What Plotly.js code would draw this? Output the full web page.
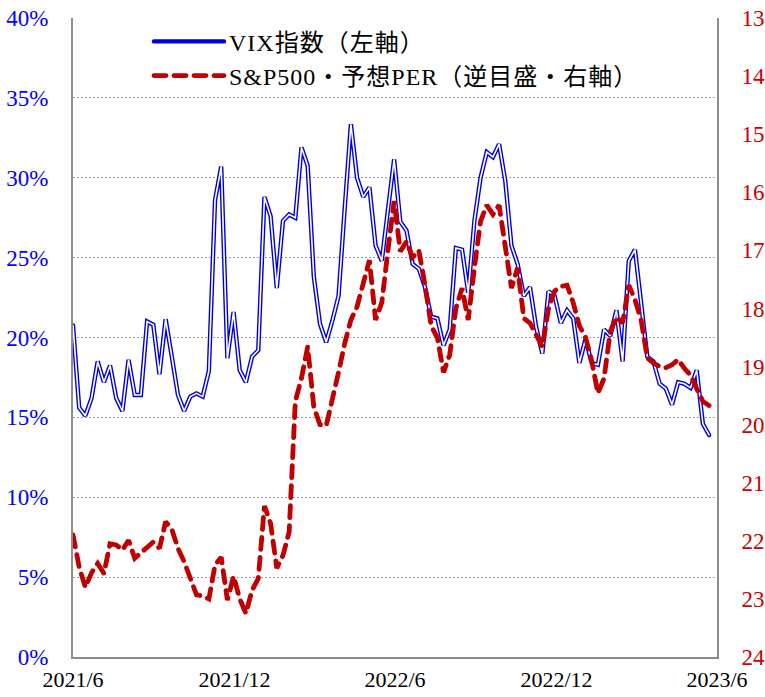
<!DOCTYPE html>
<html>
<head>
<meta charset="utf-8">
<script src="https://cdn.plot.ly/plotly-3.0.1.min.js"></script>
<style>
html,body{margin:0;padding:0;background:#fff;}
#chart{width:765px;height:697px;}
path.js-line{stroke-linecap:round;}
.legendtext{letter-spacing:1px;}
</style>
</head>
<body>
<div id="chart"></div>
<script>
// Weekly dates (Fridays)
const dates = [
'2021-06-18','2021-06-25','2021-07-02','2021-07-09','2021-07-16','2021-07-23','2021-07-30',
'2021-08-06','2021-08-13','2021-08-20','2021-08-27','2021-09-03','2021-09-10','2021-09-17','2021-09-24',
'2021-10-01','2021-10-08','2021-10-15','2021-10-22','2021-10-29','2021-11-05','2021-11-12','2021-11-19','2021-11-26',
'2021-12-03','2021-12-10','2021-12-17','2021-12-24','2021-12-31',
'2022-01-07','2022-01-14','2022-01-21','2022-01-28','2022-02-04','2022-02-11','2022-02-18','2022-02-25',
'2022-03-04','2022-03-11','2022-03-18','2022-03-25','2022-04-01','2022-04-08','2022-04-15','2022-04-22','2022-04-29',
'2022-05-06','2022-05-13','2022-05-20','2022-05-27','2022-06-03','2022-06-10','2022-06-17','2022-06-24',
'2022-07-01','2022-07-08','2022-07-15','2022-07-22','2022-07-29','2022-08-05','2022-08-12','2022-08-19','2022-08-26',
'2022-09-02','2022-09-09','2022-09-16','2022-09-23','2022-09-30','2022-10-07','2022-10-14','2022-10-21','2022-10-28',
'2022-11-04','2022-11-11','2022-11-18','2022-11-25','2022-12-02','2022-12-09','2022-12-16','2022-12-23','2022-12-30',
'2023-01-06','2023-01-13','2023-01-20','2023-01-27','2023-02-03','2023-02-10','2023-02-17','2023-02-24',
'2023-03-03','2023-03-10','2023-03-17','2023-03-24','2023-03-31','2023-04-07','2023-04-14','2023-04-21','2023-04-28',
'2023-05-05','2023-05-12','2023-05-19','2023-05-26','2023-06-02','2023-06-09'
];

// VIX index (%), left axis
const vix = [
20.75,15.6,15.1,16.2,18.5,17.2,18.25,16.2,15.4,18.6,16.4,16.4,21.0,20.8,17.7,21.15,18.8,16.4,15.4,16.3,
16.5,16.3,17.9,28.6,30.7,18.7,21.6,17.95,17.2,18.8,19.2,28.8,27.6,23.1,27.3,27.7,27.5,31.9,30.75,23.8,
20.85,19.7,21.05,22.6,28.1,33.35,30.0,28.8,29.4,25.75,24.8,28.0,31.15,27.25,26.7,24.6,24.3,23.15,21.3,21.2,
19.5,20.5,25.6,25.5,22.8,27.3,30.0,31.6,31.3,32.1,29.8,25.75,24.6,22.6,23.15,20.65,19.0,22.9,22.6,20.9,
21.7,21.2,18.4,19.9,18.4,18.3,20.5,20.1,21.7,18.5,24.8,25.5,22.0,18.8,18.5,17.1,16.8,15.8,17.2,17.1,
16.85,17.95,14.6,13.9
];

// S&P500 forward PER, right axis (reversed)
const per = [
21.9,22.45,22.8,22.55,22.39,22.56,22.05,22.07,22.16,21.99,22.3,22.2,22.1,22.02,22.13,21.67,21.8,22.13,22.36,22.65,
22.93,22.95,23.0,22.42,22.28,23.02,22.61,23.0,23.25,22.85,22.65,21.4,21.7,22.47,22.25,21.85,19.6,19.2,18.66,19.7,
20.0,20.02,19.6,19.1,18.6,18.2,17.97,17.6,17.17,18.2,17.9,17.0,16.15,17.02,16.85,17.12,17.0,17.6,18.3,18.5,
19.1,18.8,18.0,17.65,18.2,17.3,16.5,16.22,16.38,16.22,16.95,17.65,17.3,18.17,18.25,18.46,18.66,18.0,17.7,17.62,
17.6,17.9,18.3,18.5,18.9,19.46,19.2,18.4,18.15,18.25,17.6,17.85,18.2,18.85,18.94,19.0,19.02,18.97,18.88,19.03,
19.15,19.38,19.6,19.67
];

const xTickVals = ['2021-06-18','2021-12-18','2022-06-18','2022-12-18','2023-06-18'];
const xTickText = ['2021/6','2021/12','2022/6','2022/12','2023/6'];
const leftTicks = [0,5,10,15,20,25,30,35,40];
const rightTicks = [13,14,15,16,17,18,19,20,21,22,23,24];

const nameVix = 'VIX指数（左軸）';
const namePer = 'S&P500・予想PER（逆目盛・右軸）';

const FONT = "'Liberation Serif', 'Noto Sans CJK JP', serif";

const traces = [
  {x: dates, y: vix, type: 'scatter', mode: 'lines', name: nameVix, yaxis: 'y',
   line: {color: '#0000DD', width: 4.4}, hoverinfo: 'skip'},
  {x: dates, y: vix, type: 'scatter', mode: 'lines', name: nameVix + ' inner', yaxis: 'y',
   line: {color: '#ffffff', width: 1.6}, showlegend: false, hoverinfo: 'skip'},
  {x: dates, y: per, type: 'scatter', mode: 'lines', name: namePer, yaxis: 'y2',
   line: {color: '#C00000', width: 4.8, dash: '12px,8px'}, hoverinfo: 'skip'}
];

const layout = {
  width: 765, height: 697,
  margin: {l: 73, r: 48, t: 18, b: 40},
  paper_bgcolor: '#ffffff', plot_bgcolor: '#ffffff',
  font: {family: FONT, size: 23, color: '#000'},
  showlegend: true,
  legend: {x: 0.118, y: 0.998, xanchor: 'left', yanchor: 'top',
           bgcolor: 'rgba(0,0,0,0)', font: {family: FONT, size: 24, color: '#000'},
           itemwidth: 70, tracegroupgap: 0},
  xaxis: {type: 'date', range: ['2021-06-18','2023-06-18'],
          tickmode: 'array', tickvals: xTickVals, ticktext: xTickText,
          showgrid: false, zeroline: false, showline: true, linecolor: '#8c8c8c', linewidth: 2,
          ticks: '', ticklabelstandoff: 2, tickfont: {family: FONT, size: 22, color: '#000'}},
  yaxis: {range: [0, 40], tickmode: 'array', tickvals: leftTicks, ticktext: leftTicks.map(v => v + '%'),
          showgrid: true, gridcolor: '#9a9a9a', griddash: '2px,2px', gridwidth: 1,
          zeroline: false, showline: true, linecolor: '#8c8c8c', linewidth: 2,
          ticks: '', ticklabelstandoff: 18, tickfont: {family: FONT, size: 23, color: '#0000FF'}},
  yaxis2: {range: [24, 13], overlaying: 'y', side: 'right', tickmode: 'array', tickvals: rightTicks,
           showgrid: false, zeroline: false, showline: true, linecolor: '#8c8c8c', linewidth: 2,
           ticks: '', ticklabelstandoff: 18, tickfont: {family: FONT, size: 23, color: '#CC0000'}}
};

Plotly.newPlot('chart', traces, layout, {displayModeBar: false, staticPlot: true});
</script>
</body>
</html>
